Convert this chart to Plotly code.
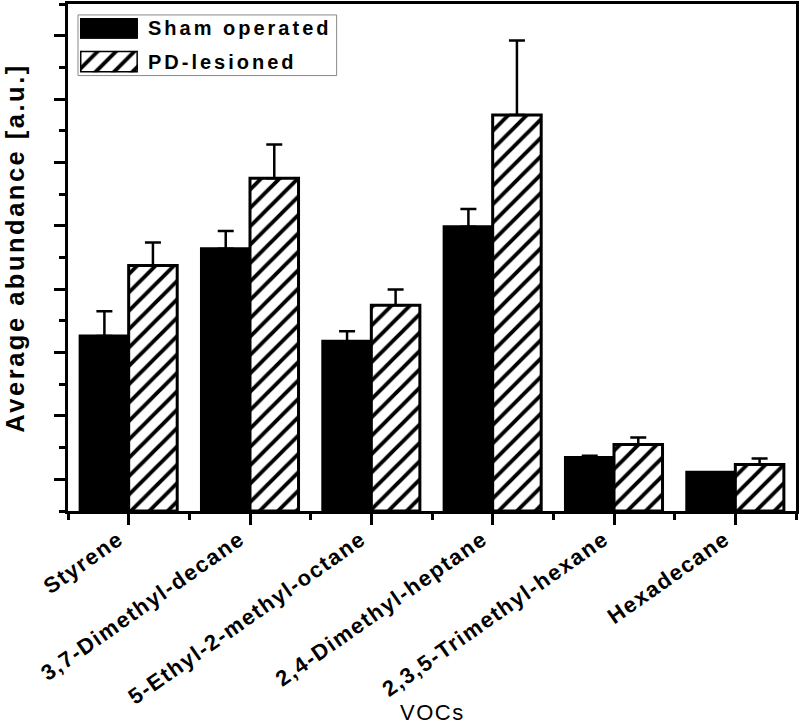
import plotly.graph_objs as go

# VOC categories and bar heights (a.u.)
vocs = ['Styrene', '3,7-Dimethyl-decane', '5-Ethyl-2-methyl-octane',
        '2,4-Dimethyl-heptane', '2,3,5-Trimethyl-hexane', 'Hexadecane']
sham = [5.52, 8.28, 5.36, 8.97, 1.69, 1.22]
sham_err = [0.78, 0.56, 0.31, 0.56, 0.05, 0.0]
pd_lesioned = [7.75, 10.50, 6.49, 12.50, 2.10, 1.47]
pd_err = [0.72, 1.07, 0.50, 2.35, 0.22, 0.19]
series_names = ['Sham operated', 'PD-lesioned']

W, H = 800, 724
L, R, T, B = 68, 3, 1, 213
PW, PH = W - L - R, H - T - B


def px(x):
    return (x - L) / PW


def py(y):
    return (H - B - y) / PH


def spaced(s, sp):
    return f'<span style="letter-spacing:{sp}px">{s}</span>'


FONT = 'Liberation Sans, Arial, sans-serif'
xpos = list(range(len(vocs)))

sham_marker = dict(color='black', line=dict(color='black', width=3))
pd_marker = dict(color='white', line=dict(color='black', width=3),
                 pattern=dict(shape='/', fgcolor='black', bgcolor='white',
                              size=13, solidity=0.3, fillmode='replace'))

fig = go.Figure()

fig.add_trace(go.Bar(
    x=xpos, y=sham, name=series_names[0], marker=sham_marker,
    error_y=dict(type='data', array=sham_err, arrayminus=[0] * len(sham),
                 symmetric=False, color='black', thickness=2.5, width=8),
    showlegend=False,
))
fig.add_trace(go.Bar(
    x=xpos, y=pd_lesioned, name=series_names[1], marker=pd_marker,
    error_y=dict(type='data', array=pd_err, arrayminus=[0] * len(pd_err),
                 symmetric=False, color='black', thickness=2.5, width=8),
    showlegend=False,
))

# legend box: swatches are single bars in two small inset axes
fig.add_shape(type='rect', xref='paper', yref='paper',
              x0=px(78), x1=px(337), y0=py(73), y1=py(12),
              line=dict(color='#888888', width=1), fillcolor='white', layer='below')

rows = [(series_names[0], sham_marker, 14, 37, '2'),
        (series_names[1], pd_marker, 47, 71, '3')]
for name, mk, top, bot, ax in rows:
    fig.add_trace(go.Bar(
        x=[1], y=[name], orientation='h', width=1, marker=mk,
        xaxis='x' + ax, yaxis='y' + ax, showlegend=False, hoverinfo='skip',
    ))
    fig.update_layout({
        'xaxis' + ax: dict(domain=[px(80), px(138)], anchor='y' + ax,
                           range=[0, 1], visible=False, fixedrange=True),
        'yaxis' + ax: dict(domain=[py(bot - 1), py(top + 1)], anchor='x' + ax,
                           range=[-0.5, 0.5], visible=False, fixedrange=True),
    })
    fig.add_annotation(x=px(146), y=py((top + bot) / 2), xref='paper', yref='paper',
                       text=spaced(name, 3), showarrow=False,
                       xanchor='left', yanchor='middle',
                       font=dict(family=FONT, size=20, color='black', weight='bold'))

fig.add_annotation(x=px(433), y=py(714), xref='paper', yref='paper',
                   text=spaced('VOCs', 1.5), showarrow=False,
                   xanchor='center', yanchor='middle',
                   font=dict(family=FONT, size=22, color='black'))
fig.add_annotation(x=px(14), y=py(247), xref='paper', yref='paper',
                   text=spaced('Average abundance [a.u.]', 2.5), showarrow=False,
                   textangle=-90, xanchor='center', yanchor='middle',
                   font=dict(family=FONT, size=25.5, color='black', weight='bold'))

fig.update_layout(
    width=W, height=H,
    margin=dict(l=L, r=R, t=T, b=B),
    plot_bgcolor='white', paper_bgcolor='white',
    barmode='group', bargap=0.2, bargroupgap=0,
    font=dict(family=FONT, color='black'),
    xaxis=dict(
        range=[-0.5, 5.5], tickvals=xpos,
        ticktext=[spaced(v, 1.5) for v in vocs], tickangle=-35,
        tickfont=dict(family=FONT, size=22, color='black', weight='bold'),
        ticklabelshift=-10, ticklabelstandoff=-7,
        ticks='outside', ticklen=11, tickwidth=2.5, tickcolor='black',
        minor=dict(tickvals=[i - 0.5 for i in range(len(vocs) + 1)],
                   ticks='outside', ticklen=6, tickwidth=2.5, tickcolor='black'),
        showline=True, linewidth=3, linecolor='black', mirror=True,
        showgrid=False, zeroline=False,
    ),
    yaxis=dict(
        range=[0, 16], tick0=1, dtick=2, showticklabels=False,
        ticks='outside', ticklen=11, tickwidth=2.5, tickcolor='black',
        minor=dict(dtick=1, tick0=0, ticks='outside', ticklen=6,
                   tickwidth=2.5, tickcolor='black'),
        showline=True, linewidth=3, linecolor='black', mirror=True,
        showgrid=False, zeroline=False,
    ),
)

# page body has a default margin; drop it so the figure sits at the corner
fig.write_html('out.html', config={'displayModeBar': False},
               post_script="document.body.style.margin='0';")
